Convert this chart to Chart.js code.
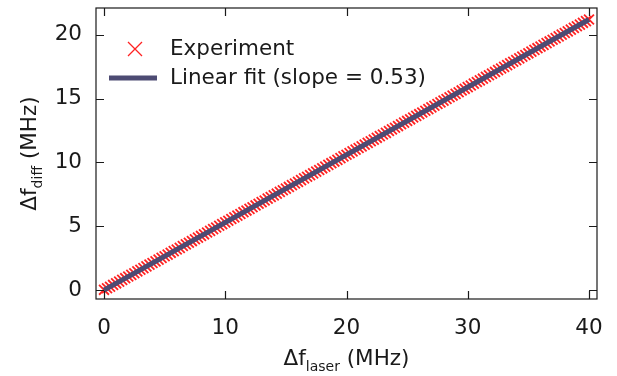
<!DOCTYPE html>
<html lang="en">
<head>
    <meta charset="UTF-8">
    <title>Frequency difference vs laser detuning</title>
    <script src="https://cdn.jsdelivr.net/npm/chart.js"></script>
    <style>
        body { margin: 0; background: #fff; }
        #wrap { width: 617px; height: 376px; }
    </style>
</head>
<body>
<div id="wrap">
    <canvas id="myChart" width="617" height="376"></canvas>
</div>
<script>
    // measured points (MHz)
    const laserDetuning = [
        0, 0.25, 0.5, 0.75, 1, 1.25, 1.5, 1.75,
        2, 2.25, 2.5, 2.75, 3, 3.25, 3.5, 3.75,
        4, 4.25, 4.5, 4.75, 5, 5.25, 5.5, 5.75,
        6, 6.25, 6.5, 6.75, 7, 7.25, 7.5, 7.75,
        8, 8.25, 8.5, 8.75, 9, 9.25, 9.5, 9.75,
        10, 10.25, 10.5, 10.75, 11, 11.25, 11.5, 11.75,
        12, 12.25, 12.5, 12.75, 13, 13.25, 13.5, 13.75,
        14, 14.25, 14.5, 14.75, 15, 15.25, 15.5, 15.75,
        16, 16.25, 16.5, 16.75, 17, 17.25, 17.5, 17.75,
        18, 18.25, 18.5, 18.75, 19, 19.25, 19.5, 19.75,
        20, 20.25, 20.5, 20.75, 21, 21.25, 21.5, 21.75,
        22, 22.25, 22.5, 22.75, 23, 23.25, 23.5, 23.75,
        24, 24.25, 24.5, 24.75, 25, 25.25, 25.5, 25.75,
        26, 26.25, 26.5, 26.75, 27, 27.25, 27.5, 27.75,
        28, 28.25, 28.5, 28.75, 29, 29.25, 29.5, 29.75,
        30, 30.25, 30.5, 30.75, 31, 31.25, 31.5, 31.75,
        32, 32.25, 32.5, 32.75, 33, 33.25, 33.5, 33.75,
        34, 34.25, 34.5, 34.75, 35, 35.25, 35.5, 35.75,
        36, 36.25, 36.5, 36.75, 37, 37.25, 37.5, 37.75,
        38, 38.25, 38.5, 38.75, 39, 39.25, 39.5, 39.75,
        40
    ];
    const diffFreq = [
        0.02, 0.14, 0.26, 0.40, 0.53, 0.66, 0.80, 0.93,
        1.06, 1.19, 1.32, 1.46, 1.59, 1.72, 1.86, 1.99,
        2.12, 2.25, 2.39, 2.52, 2.65, 2.78, 2.92, 3.05,
        3.18, 3.31, 3.45, 3.58, 3.71, 3.84, 3.98, 4.11,
        4.24, 4.37, 4.51, 4.64, 4.77, 4.90, 5.04, 5.17,
        5.30, 5.43, 5.57, 5.70, 5.83, 5.96, 6.10, 6.23,
        6.36, 6.49, 6.63, 6.76, 6.89, 7.02, 7.16, 7.29,
        7.42, 7.55, 7.69, 7.82, 7.95, 8.08, 8.22, 8.35,
        8.48, 8.61, 8.75, 8.88, 9.01, 9.14, 9.28, 9.41,
        9.54, 9.67, 9.81, 9.94, 10.07, 10.20, 10.34, 10.47,
        10.60, 10.73, 10.87, 11.00, 11.13, 11.26, 11.40, 11.53,
        11.66, 11.79, 11.93, 12.06, 12.19, 12.32, 12.46, 12.59,
        12.72, 12.85, 12.99, 13.12, 13.25, 13.38, 13.52, 13.65,
        13.78, 13.91, 14.05, 14.18, 14.31, 14.44, 14.58, 14.71,
        14.84, 14.97, 15.11, 15.24, 15.37, 15.50, 15.64, 15.77,
        15.90, 16.03, 16.17, 16.30, 16.43, 16.56, 16.70, 16.83,
        16.96, 17.09, 17.23, 17.36, 17.49, 17.62, 17.76, 17.89,
        18.02, 18.15, 18.29, 18.42, 18.55, 18.68, 18.82, 18.95,
        19.08, 19.21, 19.35, 19.48, 19.61, 19.74, 19.88, 20.01,
        20.14, 20.27, 20.41, 20.54, 20.67, 20.80, 20.94, 21.07,
        21.20
    ];
    // linear fit, slope 0.53
    const fitX = [0, 40];
    const fitY = [0.0, 21.2];

    const xTicks = [0, 10, 20, 30, 40];
    const yTicks = [0, 5, 10, 15, 20];

    const FONT = 'DejaVu Sans';
    const INK = '#1a1a1a';
    const RED = '#ff2222';
    const FITCOLOR = '#4d4b73';

    Chart.defaults.font.family = FONT;
    Chart.defaults.font.size = 21.5;
    Chart.defaults.color = INK;

    // frame + inward ticks on all four sides
    const frame = {
        id: 'frame',
        afterDraw(chart) {
            const { ctx, chartArea: a, scales } = chart;
            const len = 8;
            ctx.save();
            ctx.strokeStyle = INK;
            ctx.lineWidth = 1.2;
            ctx.strokeRect(a.left, a.top, a.right - a.left, a.bottom - a.top);
            ctx.beginPath();
            scales.x.ticks.forEach(t => {
                const px = Math.round(scales.x.getPixelForValue(t.value)) + 0.5;
                ctx.moveTo(px, a.bottom); ctx.lineTo(px, a.bottom - len);
                ctx.moveTo(px, a.top); ctx.lineTo(px, a.top + len);
            });
            scales.y.ticks.forEach(t => {
                const py = Math.round(scales.y.getPixelForValue(t.value)) + 0.5;
                ctx.moveTo(a.left, py); ctx.lineTo(a.left + len, py);
                ctx.moveTo(a.right, py); ctx.lineTo(a.right - len, py);
            });
            ctx.stroke();
            ctx.restore();
        }
    };

    // axis titles with subscripts
    function subTitle(ctx, main, sub, rest, cx, base) {
        ctx.font = '21.5px ' + FONT;
        const w1 = ctx.measureText(main).width;
        const w3 = ctx.measureText(rest).width;
        ctx.font = '14px ' + FONT;
        const w2 = ctx.measureText(sub).width;
        let x = cx - (w1 + w2 + w3) / 2;
        ctx.textBaseline = 'alphabetic';
        ctx.textAlign = 'left';
        ctx.font = '21.5px ' + FONT;
        ctx.fillText(main, x, base);
        x += w1;
        ctx.font = '14px ' + FONT;
        ctx.fillText(sub, x, base + 6);
        x += w2;
        ctx.font = '21.5px ' + FONT;
        ctx.fillText(rest, x, base);
    }

    const titles = {
        id: 'titles',
        afterDraw(chart) {
            const { ctx, chartArea: a } = chart;
            ctx.save();
            ctx.fillStyle = INK;
            subTitle(ctx, 'Δf', 'laser', ' (MHz)', (a.left + a.right) / 2, 365);
            ctx.translate(36, (a.top + a.bottom) / 2);
            ctx.rotate(-Math.PI / 2);
            subTitle(ctx, 'Δf', 'diff', ' (MHz)', 0, 0);
            ctx.restore();
        }
    };

    // legend in the upper left of the plot
    const legendBox = {
        id: 'legendBox',
        afterDraw(chart) {
            const { ctx, chartArea: a } = chart;
            const ds = chart.data.datasets;
            ctx.save();
            // cross
            const cx = a.left + 39, cy = a.top + 41, r = 7;
            ctx.strokeStyle = ds[0].borderColor;
            ctx.lineWidth = 1.3;
            ctx.beginPath();
            ctx.moveTo(cx - r, cy - r); ctx.lineTo(cx + r, cy + r);
            ctx.moveTo(cx - r, cy + r); ctx.lineTo(cx + r, cy - r);
            ctx.stroke();
            // line
            const ly = a.top + 70;
            ctx.strokeStyle = ds[1].borderColor;
            ctx.lineWidth = ds[1].borderWidth;
            ctx.beginPath();
            ctx.moveTo(a.left + 13, ly); ctx.lineTo(a.left + 61, ly);
            ctx.stroke();
            ctx.fillStyle = INK;
            ctx.font = '21.5px ' + FONT;
            ctx.textBaseline = 'middle';
            ctx.fillText(ds[0].label, a.left + 74, cy);
            ctx.fillText(ds[1].label, a.left + 74, ly);
            ctx.restore();
        }
    };

    function noPad(scale) {
        scale.paddingTop = 0;
        scale.paddingBottom = 0;
        scale.paddingLeft = 0;
        scale.paddingRight = 0;
    }

    const ctx1 = document.getElementById('myChart').getContext('2d');
    const myChart = new Chart(ctx1, {
        type: 'scatter',
        data: {
            datasets: [{
                label: 'Experiment',
                data: laserDetuning.map((x, i) => ({ x: x, y: diffFreq[i] })),
                pointStyle: 'crossRot',
                pointRadius: 7,
                borderColor: RED,
                backgroundColor: RED,
                borderWidth: 1.8,
                showLine: false,
                order: 2
            }, {
                label: 'Linear fit (slope = 0.53)',
                data: fitX.map((x, i) => ({ x: x, y: fitY[i] })),
                showLine: true,
                pointRadius: 0,
                borderColor: FITCOLOR,
                backgroundColor: FITCOLOR,
                borderWidth: 5,
                order: 1
            }]
        },
        options: {
            responsive: false,
            animation: false,
            events: [],
            layout: { autoPadding: false, padding: { top: 8, right: 20, left: 0, bottom: 0 } },
            plugins: {
                legend: { display: false },
                tooltip: { enabled: false }
            },
            scales: {
                x: {
                    type: 'linear',
                    min: -0.66,
                    max: 40.66,
                    grid: { display: false },
                    border: { display: false },
                    afterFit(scale) { scale.height = 77; noPad(scale); },
                    afterBuildTicks(scale) { scale.ticks = xTicks.map(v => ({ value: v })); },
                    ticks: { padding: 9, maxRotation: 0 }
                },
                y: {
                    type: 'linear',
                    min: -0.7,
                    max: 22.1,
                    grid: { display: false },
                    border: { display: false },
                    afterFit(scale) { scale.width = 96; noPad(scale); },
                    afterBuildTicks(scale) { scale.ticks = yTicks.map(v => ({ value: v })); },
                    // tiny line height so the top label does not push the plot down
                    ticks: { padding: 6, font: { lineHeight: 0.1 } }
                }
            }
        },
        plugins: [frame, titles, legendBox]
    });
</script>
</body>
</html>
